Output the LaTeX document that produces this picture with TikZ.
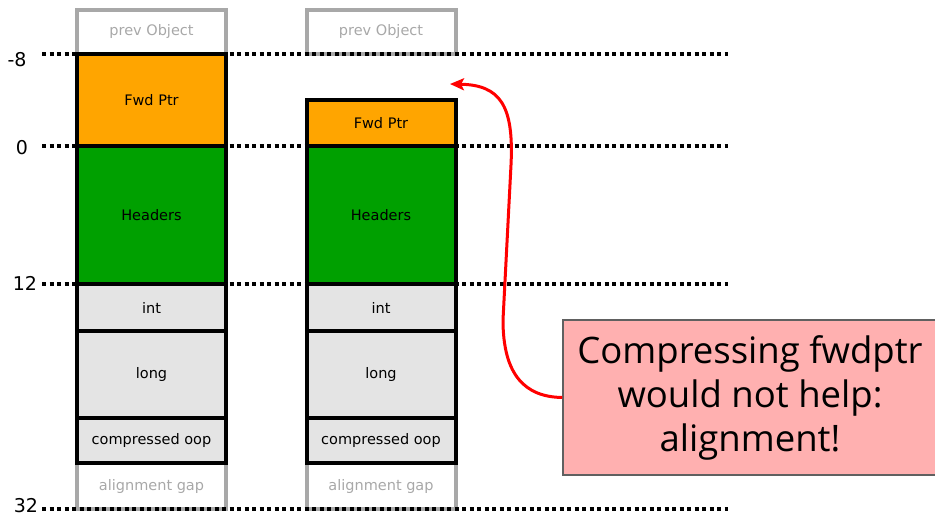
\documentclass[tikz,border=0pt]{standalone}
\usepackage{fontspec}
\setmainfont{DejaVu Sans}
\newfontfamily\notefont{Open Sans}
\usetikzlibrary{positioning,arrows.meta}
\definecolor{fwdorange}{HTML}{FFA500}
\definecolor{hdrgreen}{HTML}{00A000}
\definecolor{fldgray}{HTML}{E4E4E4}
\definecolor{gapgray}{HTML}{A8A8A8}
\definecolor{notepink}{HTML}{FFB0B0}
\definecolor{noteedge}{HTML}{606060}

\begin{document}
\begin{tikzpicture}[x=1pt,y=-1pt,node distance=0pt,
    cell/.style = {draw, line width=4pt, minimum width=149pt, inner sep=0pt, outer sep=0pt, font=\fontsize{14.5}{17}\selectfont},
    ghost/.style = {cell, draw=gapgray, text=gapgray},
    gapcell/.style = {cell, draw=none, text=gapgray},
    fwd/.style = {cell, fill=fwdorange},
    hdr/.style = {cell, fill=hdrgreen},
    fld/.style = {cell, fill=fldgray},
    level/.style = {draw, line width=4pt, dash pattern=on 4pt off 3.5pt},
    num/.style = {font=\fontsize{19}{22}\selectfont},
    note/.style = {draw=noteedge, line width=1.5pt, fill=notepink, minimum width=374pt, minimum height=155pt, align=center, font=\notefont\fontsize{36.5}{44}\selectfont}]
                \useasboundingbox (0,0) rectangle (935,516);
                % old layout
                \node[ghost, minimum height=44pt] (p1) at (151.5,32) {prev Object};
                \node[fwd, minimum height=92pt] (f1) [below=of p1] {Fwd Ptr};
                \node[hdr, minimum height=138pt] (h1) [below=of f1] {Headers};
                \node[fld, minimum height=47pt] (i1) [below=of h1] {int};
                \node[fld, minimum height=87pt] (l1) [below=of i1] {long};
                \node[fld, minimum height=45pt] (c1) [below=of l1] {compressed oop};
                \node[gapcell, minimum height=46pt] (g1) [below=of c1] {alignment gap};
                % compressed fwdptr
                \node[ghost, minimum height=44pt] (p2) at (381,32) {prev Object};
                \node[fwd, minimum height=46pt] (f2) [below=46pt of p2] {Fwd Ptr};
                \node[hdr, minimum height=138pt] (h2) [below=of f2] {Headers};
                \node[fld, minimum height=47pt] (i2) [below=of h2] {int};
                \node[fld, minimum height=87pt] (l2) [below=of i2] {long};
                \node[fld, minimum height=45pt] (c2) [below=of l2] {compressed oop};
                \node[gapcell, minimum height=46pt] (g2) [below=of c2] {alignment gap};
                \foreach \g in {g1,g2}
                    \draw[gapgray, line width=4pt] ([yshift=-2pt]\g.north west) -- (\g.south west) -- (\g.south east) -- ([yshift=-2pt]\g.north east);
                % offsets
                \foreach \y/\lx/\ly/\lbl in {54/17/60/-8, 146/22/148/0, 284/25/283/12, 509/26/505.5/32}
                    {
                    \draw[level] (42,\y) -- (728,\y);
                    \node[num] (n\lbl) at (\lx,\ly) {\lbl};
                    }
                \node[note] (note) at (750,397.5) {Compressing fwdptr\\would not help:\\alignment!};
                \coordinate (tip) at (450,84);
                \draw[red, line width=3pt, -{Stealth[length=14pt,width=12pt,inset=3pt]}]
                    (note.west) .. controls (525,397) and (503,375) .. (503,320)
                    -- (511,165) .. controls (514,105) and (500,85) .. (tip);
            \end{tikzpicture}
\end{document}
